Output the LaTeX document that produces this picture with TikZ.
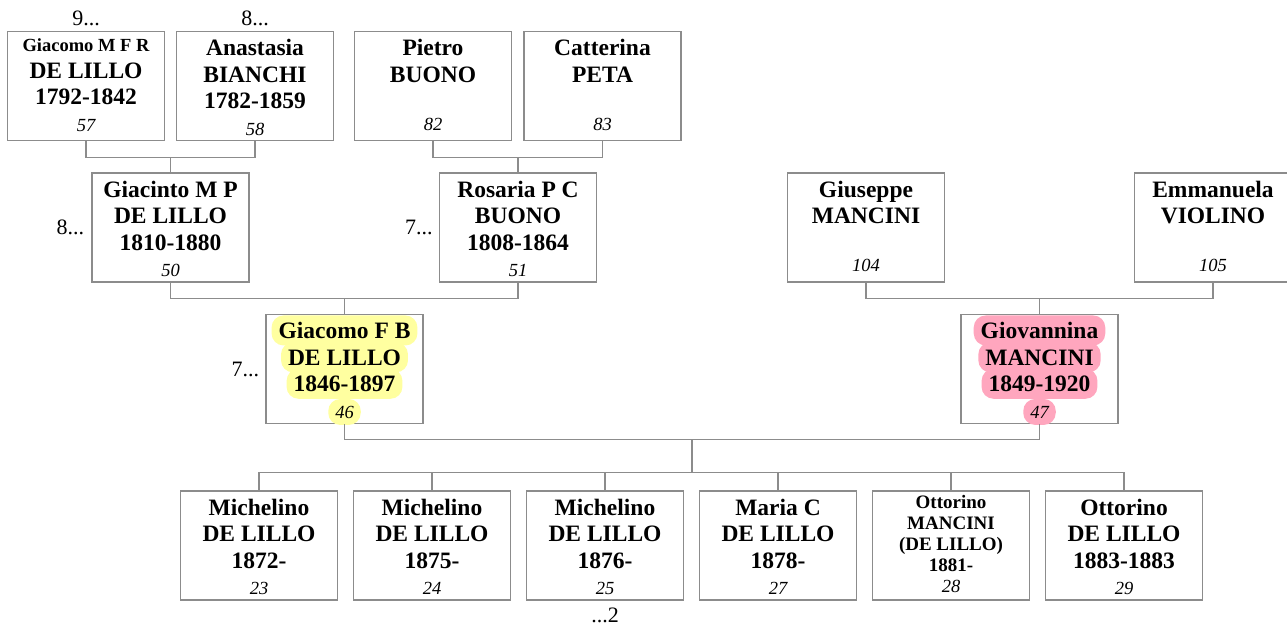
\documentclass[tikz,border=0pt]{standalone}
\usepackage{fontspec}
\setmainfont{Liberation Serif}
\usetikzlibrary{positioning, calc}

\definecolor{boxgray}{RGB}{140,140,140}
\definecolor{hlyellow}{RGB}{255,255,160}
\definecolor{hlpink}{RGB}{255,166,190}

\newcommand{\namefont}{\bfseries\fontsize{23.5}{26.5}\selectfont}
\newcommand{\smallname}{\fontsize{18.5}{20}\selectfont}
\newcommand{\numfont}{\mdseries\itshape\fontsize{18.5}{20}\selectfont}
% scheda persona: nome in alto, numero in basso
\newcommand{\pcard}[3][19.5pt]{\parbox[c][100pt][t]{152pt}{\centering\namefont\rule{0pt}{#1}#2\par\vfill{\numfont\strut #3}\par}}
% evidenziatore a pillola
\newcommand{\hl}[3][30pt]{\smash{\tikz[baseline=(h.base)]\node[draw=none, fill=#2, rounded corners=12pt, minimum width=0pt, minimum height=#1, inner xsep=7pt, inner ysep=0pt] (h) {#3};}}

\begin{document}
\begin{tikzpicture}[x=1pt, y=-1pt]
    % Stili
    \tikzstyle{person} = [draw=boxgray, line width=1.2pt, fill=white, minimum width=157pt, minimum height=109pt, inner sep=0pt]
    \tikzstyle{link} = [draw=boxgray, line width=1.2pt]
    \tikzstyle{more} = [inner sep=0pt, font=\fontsize{22}{24}\selectfont]

    \path[use as bounding box, fill=white] (0,0) rectangle (1287,625);

    % Bisnonni
    \node [person] (p57) at (86,86) {\pcard[15.5pt]{{\smallname Giacomo M F R}\\DE LILLO\\1792-1842}{57}};
    \node [person, right of=p57, node distance=169pt] (p58) {\pcard{Anastasia\\BIANCHI\\1782-1859}{58}};
    \node [person, right of=p58, node distance=178pt] (p82) {\pcard{Pietro\\BUONO}{82}};
    \node [person, right of=p82, node distance=169.5pt] (p83) {\pcard{Catterina\\PETA}{83}};

    % Nonni
    \node [person] (p50) at (170.5,227.5) {\pcard{Giacinto M P\\DE LILLO\\1810-1880}{50}};
    \node [person, right of=p50, node distance=347.5pt] (p51) {\pcard{Rosaria P C\\BUONO\\1808-1864}{51}};
    \node [person] (p104) at (866,227.5) {\pcard{Giuseppe\\MANCINI}{104}};
    \node [person, right of=p104, node distance=347pt] (p105) {\pcard{Emmanuela\\VIOLINO}{105}};

    % Coppia
    \node [person] (p46) at (344.5,369) {\pcard{\hl{hlyellow}{Giacomo F B}\\\hl{hlyellow}{DE LILLO}\\\hl{hlyellow}{1846-1897}}{\hl[26pt]{hlyellow}{46}}};
    \node [person, right of=p46, node distance=695pt] (p47) {\pcard{\hl{hlpink}{Giovannina}\\\hl{hlpink}{MANCINI}\\\hl{hlpink}{1849-1920}}{\hl[26pt]{hlpink}{47}}};

    % Figli
    \node [person] (p23) at (259,545.5) {\pcard{Michelino\\DE LILLO\\1872-}{23}};
    \node [person, right of=p23, node distance=173pt] (p24) {\pcard{Michelino\\DE LILLO\\1875-}{24}};
    \node [person, right of=p24, node distance=173pt] (p25) {\pcard{Michelino\\DE LILLO\\1876-}{25}};
    \node [person, right of=p25, node distance=173pt] (p27) {\pcard{Maria C\\DE LILLO\\1878-}{27}};
    \node [person, right of=p27, node distance=173pt] (p28) {\pcard[13pt]{\fontsize{19}{21}\selectfont Ottorino\\MANCINI\\(DE LILLO)\\1881-}{28}};
    \node [person, right of=p28, node distance=173pt] (p29) {\pcard{Ottorino\\DE LILLO\\1883-1883}{29}};

    % Rimandi
    \node [more, above=5pt of p57] (g57) {9...};
    \node [more, above=5pt of p58] (g58) {8...};
    \node [more, left=7pt of p50] (g50) {8...};
    \node [more, left=6pt of p51] (g51) {7...};
    \node [more, left=6pt of p46] (g46) {7...};
    \node [more, below=7pt of p25] (g25) {...2};

    % Linee
    \draw [link] (p57.south) -- ++(0,16) coordinate (b57) -| (p58.south);
    \draw [link] (p50.north) -- (p50.north |- b57);
    \draw [link] (p82.south) -- ++(0,16) coordinate (b82) -| (p83.south);
    \draw [link] (p51.north) -- (p51.north |- b82);
    \draw [link] (p50.south) -- ++(0,16) coordinate (b50) -| (p51.south);
    \draw [link] (p46.north) -- (p46.north |- b50);
    \draw [link] (p104.south) -- ++(0,16) coordinate (b104) -| (p105.south);
    \draw [link] (p47.north) -- (p47.north |- b104);

    \draw [link] (p46.south) -- ++(0,15) coordinate (b46) -| (p47.south);
    \draw [link] (p23.north) -- ++(0,-18) coordinate (kids) -| (p29.north);
    \foreach \k in {24,25,27,28}
        \draw [link] (p\k.north) -- (p\k.north |- kids);
    \coordinate (fam) at ($(b46)!0.5!(b46 -| p47.south)$);
    \draw [link] (fam) -- (fam |- kids);

\end{tikzpicture}
\end{document}
